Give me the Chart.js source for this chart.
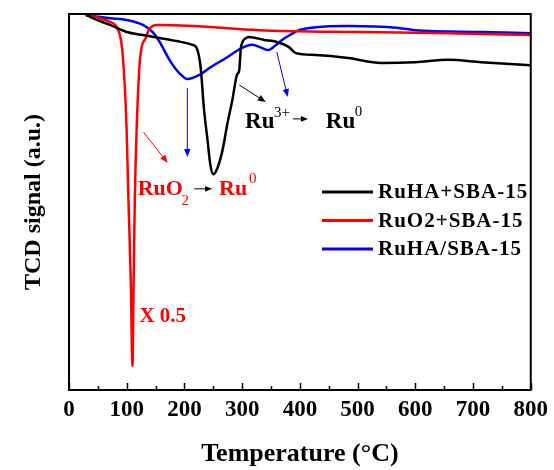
<!DOCTYPE html>
<html>
<head>
<meta charset="utf-8">
<script src="https://cdn.jsdelivr.net/npm/chart.js@4/dist/chart.umd.min.js"></script>
<style>
  html, body { margin: 0; padding: 0; background: #fff; }
  #wrap { width: 554px; height: 470px; }
</style>
</head>
<body>
<div id="wrap"><canvas id="tprChart"></canvas></div>
<script>
// TPR curves, temperature (C) and TCD signal (a.u.)

const blackTemp = [31, 41, 71, 100, 128, 157, 186, 214, 221, 228, 234, 240, 245, 250, 257, 266, 274, 283, 291, 295, 298, 307, 312, 338, 359, 381, 393, 428, 484, 541, 600, 657, 714, 800];
const blackSignal = [99.7, 98.9, 97.1, 95.2, 94.4, 93.6, 92.8, 91.8, 91.0, 85.9, 74.5, 66.5, 59.8, 57.4, 59.0, 63.8, 70.5, 77.1, 83.8, 85.1, 91.2, 93.6, 93.9, 93.1, 92.6, 91.2, 89.6, 89.1, 88.3, 87.0, 87.2, 87.8, 87.2, 86.4];

const redTemp = [28, 53, 71, 83, 90, 93, 97, 100, 103, 107, 110, 112, 114, 117, 122, 126, 133, 138, 152, 214, 329, 502, 657, 800];
const redSignal = [99.7, 98.9, 97.9, 96.5, 93.1, 89.1, 79.8, 68.4, 50.5, 29.3, 6.4, 29.3, 50.5, 68.4, 85.9, 91.2, 93.6, 95.7, 97.1, 96.8, 95.7, 95.2, 94.9, 94.4];

const blueTemp = [31, 71, 100, 128, 145, 157, 174, 191, 205, 226, 243, 272, 300, 317, 334, 345, 359, 369, 386, 398, 428, 484, 571, 600, 714, 800];
const blueSignal = [99.7, 98.9, 98.4, 97.1, 95.2, 92.6, 87.8, 84.3, 82.7, 83.8, 85.6, 88.3, 91.0, 91.8, 91.0, 90.4, 91.8, 93.1, 94.7, 95.7, 96.5, 96.8, 96.3, 95.7, 95.2, 94.9];

const seriesNames = ['RuHA+SBA-15', 'RuO2+SBA-15', 'RuHA/SBA-15'];
const seriesColors = ['rgb(0, 0, 0)', 'rgb(255, 0, 0)', 'rgb(0, 0, 255)'];

const xTicks = [0, 100, 200, 300, 400, 500, 600, 700, 800];

function toPoints(xs, ys) {
    const pts = [];
    for (let i = 0; i < xs.length; i++) {
        pts.push({ x: xs[i], y: ys[i] });
    }
    return pts;
}

const SERIF = "'Liberation Serif', 'Times New Roman', serif";

function arrow(ctx, x1, y1, x2, y2, color, head) {
    const ang = Math.atan2(y2 - y1, x2 - x1);
    ctx.save();
    ctx.strokeStyle = color;
    ctx.fillStyle = color;
    ctx.lineWidth = 1;
    ctx.beginPath();
    ctx.moveTo(x1, y1);
    ctx.lineTo(x2 - Math.cos(ang) * head * 0.8, y2 - Math.sin(ang) * head * 0.8);
    ctx.stroke();
    ctx.beginPath();
    ctx.moveTo(x2, y2);
    ctx.lineTo(x2 - head * Math.cos(ang) + head * 0.4 * Math.sin(ang), y2 - head * Math.sin(ang) - head * 0.4 * Math.cos(ang));
    ctx.lineTo(x2 - head * Math.cos(ang) - head * 0.4 * Math.sin(ang), y2 - head * Math.sin(ang) + head * 0.4 * Math.cos(ang));
    ctx.closePath();
    ctx.fill();
    ctx.restore();
}

// frame, inner ticks, notes and legend
const decorations = {
    id: 'decorations',
    afterDraw(chart) {
        const ctx = chart.ctx;
        const a = chart.chartArea;
        const xs = chart.scales.x;
        const ys = chart.scales.y;
        const X = v => xs.getPixelForValue(v);
        const Y = v => ys.getPixelForValue(v);

        ctx.save();
        ctx.strokeStyle = '#000';
        ctx.lineWidth = 2;
        ctx.strokeRect(a.left, a.top, a.right - a.left, a.bottom - a.top);
        ctx.lineWidth = 1.5;
        for (let t = 0; t <= 800; t += 50) {
            const px = Math.round(X(t)) + 0.5;
            const len = t % 100 === 0 ? 7 : 4;
            ctx.beginPath();
            ctx.moveTo(px, a.bottom);
            ctx.lineTo(px, a.bottom - len);
            ctx.stroke();
        }
        ctx.restore();

        // notes
        ctx.save();
        ctx.textBaseline = 'alphabetic';
        ctx.textAlign = 'left';
        ctx.fillStyle = '#000';
        ctx.font = 'bold 23px ' + SERIF;
        ctx.fillText('Ru', X(305), Y(69.7));
        ctx.fillText('Ru', X(445), Y(69.7));
        ctx.font = '15px ' + SERIF;
        ctx.fillText('3+', X(355), Y(72.6));
        ctx.fillText('0', X(495), Y(72.9));
        arrow(ctx, X(388), Y(72.1), X(414), Y(72.1), '#000', 7);
        arrow(ctx, X(295), Y(81.1), X(341), Y(76.6), '#000', 8);

        ctx.fillStyle = 'rgb(255, 0, 0)';
        ctx.font = 'bold 22px ' + SERIF;
        ctx.fillText('RuO', X(119), Y(51.9));
        ctx.fillText('Ru', X(260), Y(51.9));
        ctx.font = '15px ' + SERIF;
        ctx.fillText('2', X(195), Y(49.2));
        ctx.fillText('0', X(312), Y(55.0));
        ctx.font = 'bold 21px ' + SERIF;
        ctx.fillText('X 0.5', X(122), Y(18.1));
        arrow(ctx, X(217), Y(53.5), X(248), Y(53.5), '#000', 7);
        arrow(ctx, X(129), Y(68.6), X(171), Y(60.4), 'rgb(255, 0, 0)', 8);

        arrow(ctx, X(205), Y(80.3), X(205), Y(62.0), 'rgb(0, 0, 255)', 8);
        arrow(ctx, X(360), Y(89.9), X(379), Y(77.9), 'rgb(0, 0, 255)', 8);
        ctx.restore();

        // legend
        ctx.save();
        const lx = a.left + 253;
        const ly = a.top + 178;
        ctx.font = 'bold 21px ' + SERIF;
        ctx.letterSpacing = '1px';
        ctx.textBaseline = 'middle';
        chart.data.datasets.forEach(function(ds, i) {
            const y = ly + i * 28.5;
            ctx.strokeStyle = ds.borderColor;
            ctx.lineWidth = 3;
            ctx.beginPath();
            ctx.moveTo(lx, y);
            ctx.lineTo(lx + 51, y);
            ctx.stroke();
            ctx.fillStyle = '#000';
            ctx.fillText(ds.label, lx + 56, y + 1);
        });
        ctx.restore();
    }
};

const ctxTpr = document.getElementById('tprChart');

new Chart(ctxTpr, {
    type: 'line',
    data: {
        datasets: [
            { label: seriesNames[0], data: toPoints(blackTemp, blackSignal), borderColor: seriesColors[0] },
            { label: seriesNames[1], data: toPoints(redTemp, redSignal), borderColor: seriesColors[1] },
            { label: seriesNames[2], data: toPoints(blueTemp, blueSignal), borderColor: seriesColors[2] }
        ]
    },
    options: {
        responsive: true,
        maintainAspectRatio: false,
        animation: false,
        layout: { padding: { top: 14, right: 21, left: 0, bottom: 0 } },
        elements: {
            point: { radius: 0 },
            line: { borderWidth: 2.5, cubicInterpolationMode: 'monotone', fill: false }
        },
        plugins: {
            legend: { display: false },
            tooltip: { enabled: false }
        },
        scales: {
            x: {
                type: 'linear',
                min: 0,
                max: 800,
                afterBuildTicks: function(scale) {
                    scale.ticks = xTicks.map(v => ({ value: v }));
                },
                afterFit: function(scale) { scale.height = 80; },
                grid: { display: false, drawTicks: false },
                border: { display: false },
                ticks: {
                    color: '#000',
                    padding: 6,
                    maxRotation: 0,
                    font: { family: SERIF, size: 23, weight: 'bold' }
                },
                title: {
                    display: true,
                    text: 'Temperature (\u00B0C)',
                    color: '#000',
                    padding: { top: 0, bottom: 0 },
                    font: { family: SERIF, size: 26, weight: 'bold' }
                }
            },
            y: {
                min: 0,
                max: 100,
                afterFit: function(scale) { scale.width = 69; },
                grid: { display: false, drawTicks: false },
                border: { display: false },
                ticks: { display: false },
                title: {
                    display: true,
                    text: 'TCD signal (a.u.)',
                    color: '#000',
                    padding: { top: 19, bottom: 0 },
                    font: { family: SERIF, size: 24, weight: 'bold' }
                }
            }
        }
    },
    plugins: [decorations]
});
</script>
</body>
</html>
